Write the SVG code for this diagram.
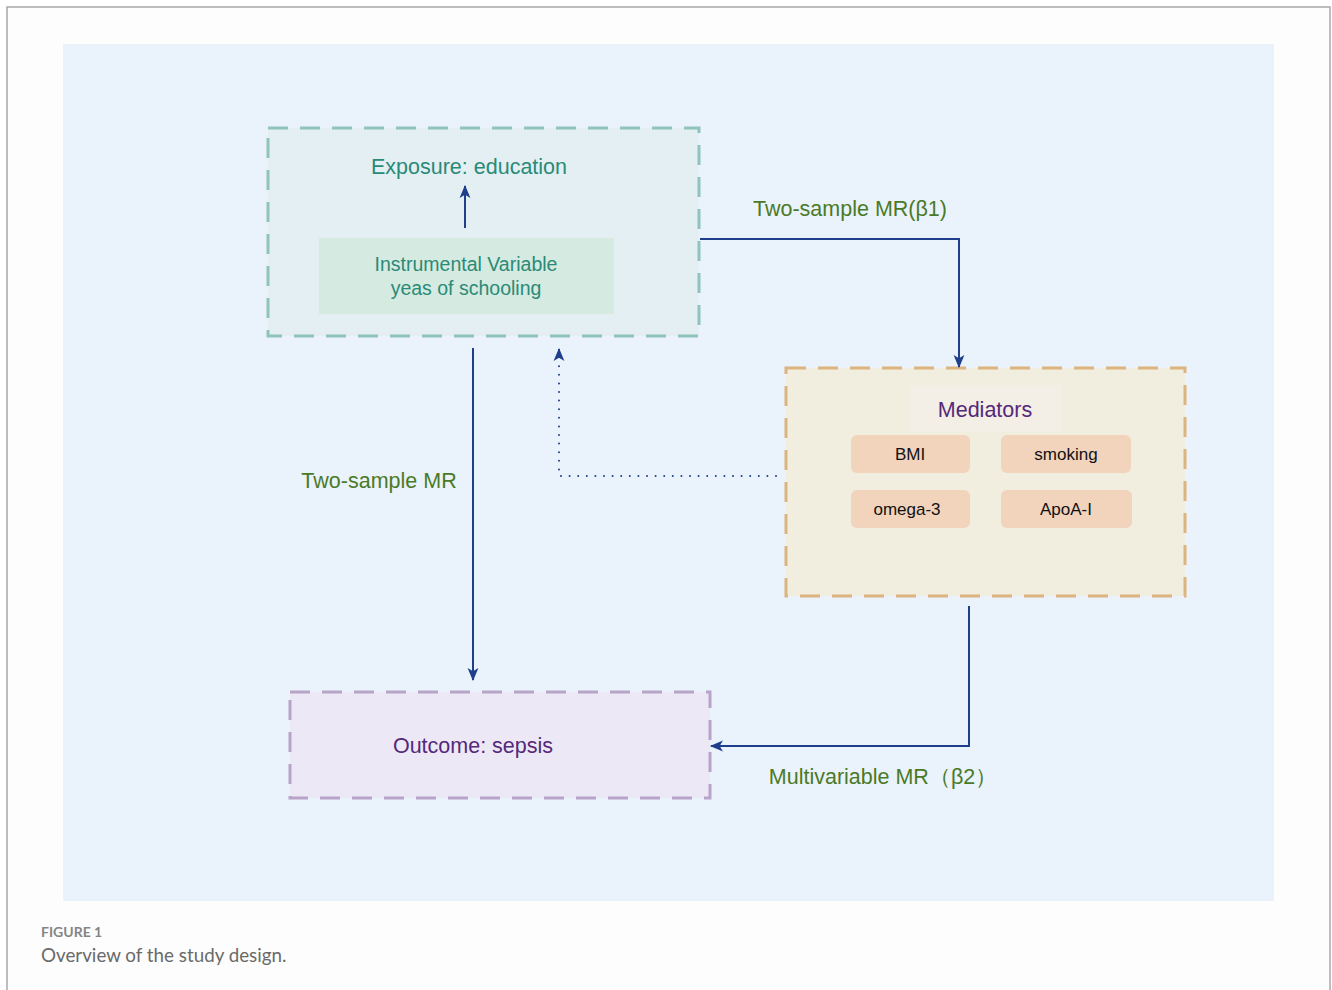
<svg xmlns="http://www.w3.org/2000/svg" width="1332" height="990" viewBox="0 0 1332 990">
<style>
.t{font-family:"Liberation Sans",Arial,sans-serif;text-anchor:middle}
.teal{fill:#2a8a78;font-size:21.5px}
.tealS{fill:#2a8a78;font-size:19.5px}
.green{fill:#4a7a26;font-size:21.5px}
.purple{fill:#55287a;font-size:21.5px}
.blk{fill:#111;font-size:17px}
.con{fill:none;stroke:#1f3f8c;stroke-width:2}
.med{fill:#f2d3bc}
</style>
<defs>
<marker id="ah" viewBox="0 0 12 12" refX="11" refY="6" markerWidth="13" markerHeight="13" markerUnits="userSpaceOnUse" orient="auto">
<path d="M0,1 L12,6 L0,11 L3,6 Z" fill="#1f3f8c"/>
</marker>
</defs>
<rect x="0" y="0" width="1332" height="990" fill="#ffffff"/>
<rect x="7" y="7" width="1323" height="990" fill="#fdfdfd" stroke="#a8a8a8" stroke-width="1.5"/>
<rect x="63" y="44" width="1211" height="857" fill="#eaf2fc"/>

<g id="exposure">
<rect x="268" y="128" width="431" height="208" fill="#e3eff2" stroke="#8fc3bc" stroke-width="3" stroke-dasharray="20 12"/>
<text class="t teal" x="469" y="174">Exposure: education</text>
</g>
<g id="iv">
<rect x="319" y="238" width="295" height="76" fill="#d5eae0"/>
<text class="t tealS" x="466" y="271">Instrumental Variable</text>
<text class="t tealS" x="466" y="295">yeas of schooling</text>
</g>
<g id="mediators">
<rect x="786" y="368" width="399" height="228" fill="#f2eedf" stroke="#dcb47e" stroke-width="3" stroke-dasharray="20 12"/>
<rect x="910" y="385" width="152" height="47" fill="#f3efe6"/>
<text class="t purple" x="985" y="417">Mediators</text>
</g>
<g id="bmi"><rect class="med" x="851" y="435" width="119" height="38" rx="6"/><text class="t blk" x="910" y="460">BMI</text></g>
<g id="smoking"><rect class="med" x="1001" y="435" width="130" height="38" rx="6"/><text class="t blk" x="1066" y="460">smoking</text></g>
<g id="omega3"><rect class="med" x="851" y="490" width="119" height="38" rx="6"/><text class="t blk" x="907" y="515">omega-3</text></g>
<g id="apoa"><rect class="med" x="1001" y="490" width="131" height="38" rx="6"/><text class="t blk" x="1066" y="515">ApoA-I</text></g>
<g id="outcome">
<rect x="290" y="692" width="420" height="106" fill="#ece8f6" stroke="#b8a4c8" stroke-width="3" stroke-dasharray="20 12"/>
<text class="t purple" x="473" y="753">Outcome: sepsis</text>
</g>

<g id="connectors">
<path class="con" d="M465,228 V186" marker-end="url(#ah)"/>
<path class="con" d="M700,239 H959 V367" marker-end="url(#ah)"/>
<path class="con" d="M473,348 V680" marker-end="url(#ah)"/>
<path class="con" d="M969,606 V746 H711" marker-end="url(#ah)"/>
<path class="con" d="M776,476 H559 V362" stroke-width="2.8" stroke-dasharray="0 8.6" stroke-linecap="round"/>
<path class="con" d="M559,358 V349" marker-end="url(#ah)"/>
<text class="t green" x="850" y="216">Two-sample MR(β1)</text>
<text class="t green" x="379" y="488">Two-sample MR</text>
<text class="t green" x="883" y="784">Multivariable MR（β2）</text>
</g>

<text x="41" y="937" font-family="Lato,'Open Sans',sans-serif" font-size="14" font-weight="bold" fill="#858585">FIGURE 1</text>
<text x="41" y="962" font-family="Lato,'Open Sans',sans-serif" font-size="18.8" fill="#6a6a6a">Overview of the study design.</text>
</svg>
